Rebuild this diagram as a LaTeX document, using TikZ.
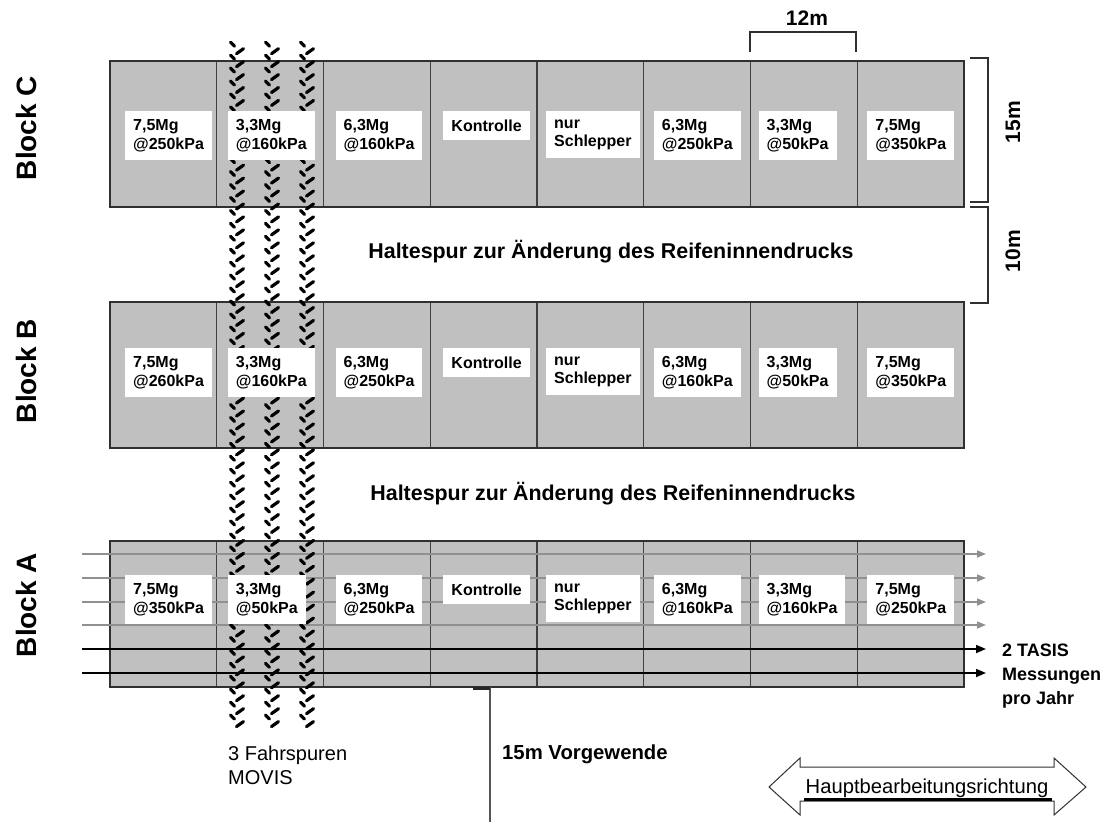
\documentclass[tikz,border=0pt]{standalone}
\usepackage{fontspec}
\setmainfont{Liberation Sans}
\usetikzlibrary{arrows.meta}
\definecolor{blockgray}{HTML}{C0C0C0}
\definecolor{edgegray}{HTML}{303030}
\definecolor{divgray}{HTML}{404040}
\definecolor{arrgray}{HTML}{909090}
\definecolor{linegray}{HTML}{555555}
\begin{document}
\begin{tikzpicture}[x=1pt,y=-1pt,
  divider/.style={draw=divgray, line width=1.4pt},
  outline/.style={draw=edgegray, line width=1.8pt},
  cellbox/.style={fill=white, inner xsep=8pt, inner ysep=8.3pt, align=left, anchor=north west, font=\bfseries\fontsize{16}{18.6}\selectfont},
  trk/.style={line width=3.2pt, line cap=round, black},
  dim/.style={draw=edgegray, line width=1.3pt},
  dimlab/.style={font=\bfseries\fontsize{21}{24}\selectfont, inner sep=0pt},
  blocklab/.style={font=\bfseries\fontsize{28}{32}\selectfont, inner sep=0pt, rotate=90},
  halte/.style={font=\bfseries\fontsize{21.4}{24}\selectfont, inner sep=0pt},
  grayarr/.style={draw=arrgray, line width=1.4pt, -{Triangle[length=9pt,width=7pt]}, arrgray},
  blackarr/.style={draw=black, line width=1.7pt, -{Triangle[length=10pt,width=8pt]}},
  plainlab/.style={font=\fontsize{20}{24}\selectfont, inner sep=0pt, align=left},
  boldlab/.style={font=\bfseries\fontsize{18}{24}\selectfont, inner sep=0pt, align=left}
]
\useasboundingbox (0,0) rectangle (1111,822);

% blocks
\foreach \yy in {61,302,541} {
  \fill[blockgray] (110,\yy) rectangle (964,\yy+146);
  \foreach \i in {1,...,7} \draw[divider] (110+\i*106.75,\yy) -- (110+\i*106.75,\yy+146);
  \draw[outline] (110,\yy) rectangle (964,\yy+146);
}

% gray measuring lines in block A
\foreach \yy in {554,578,602,625}
  \draw[grayarr] (82,\yy) -- (986,\yy);

% tire tracks
\foreach \c in {237,272,307} {
  \foreach \k in {0,...,52} {
    \pgfmathsetmacro{\yy}{41.7+\k*12.94}
    \draw[trk] (\c-6.5,\yy+0.5) -- (\c-2.5,\yy+4.5);
    \draw[trk] (\c-0.5,\yy+12) -- (\c+6.5,\yy+7);
  }
}

% Block C labels
\node[cellbox] (cC1) at (125,111) {7,5Mg\\@250kPa};
\node[cellbox] (cC2) at (227.75,111) {3,3Mg\\@160kPa};
\node[cellbox] (cC3) at (335.5,111) {6,3Mg\\@160kPa};
\node[cellbox] (cC4) at (443.25,111) {Kontrolle};
\node[cellbox] (cC5) at (546,111) {nur\\Schlepper};
\node[cellbox] (cC6) at (653.75,111) {6,3Mg\\@250kPa};
\node[cellbox] (cC7) at (758.5,111) {3,3Mg\\@50kPa};
\node[cellbox] (cC8) at (867.25,111) {7,5Mg\\@350kPa};

% Block B labels
\node[cellbox] (cB1) at (125,348) {7,5Mg\\@260kPa};
\node[cellbox] (cB2) at (227.75,348) {3,3Mg\\@160kPa};
\node[cellbox] (cB3) at (335.5,348) {6,3Mg\\@250kPa};
\node[cellbox] (cB4) at (443.25,348) {Kontrolle};
\node[cellbox] (cB5) at (546,348) {nur\\Schlepper};
\node[cellbox] (cB6) at (653.75,348) {6,3Mg\\@160kPa};
\node[cellbox] (cB7) at (758.5,348) {3,3Mg\\@50kPa};
\node[cellbox] (cB8) at (867.25,348) {7,5Mg\\@350kPa};

% Block A labels
\node[cellbox] (cA1) at (125,575) {7,5Mg\\@350kPa};
\node[cellbox] (cA2) at (227.75,575) {3,3Mg\\@50kPa};
\node[cellbox] (cA3) at (335.5,575) {6,3Mg\\@250kPa};
\node[cellbox] (cA4) at (443.25,575) {Kontrolle};
\node[cellbox] (cA5) at (546,575) {nur\\Schlepper};
\node[cellbox] (cA6) at (653.75,575) {6,3Mg\\@160kPa};
\node[cellbox] (cA7) at (758.5,575) {3,3Mg\\@160kPa};
\node[cellbox] (cA8) at (867.25,575) {7,5Mg\\@250kPa};

% TASIS lines
\foreach \yy in {649,673}
  \draw[blackarr] (82,\yy) -- (986,\yy);
\node[boldlab, anchor=north west] (tasis) at (1002,644) {2 TASIS\\Messungen\\pro Jahr};

% block names
\node[blocklab] (bC) at (26,128) {Block C};
\node[blocklab] (bB) at (26,371) {Block B};
\node[blocklab] (bA) at (26,605) {Block A};

% headland texts
\node[halte] (h1) at (611,252) {Haltespur zur Änderung des Reifeninnendrucks};
\node[halte] (h2) at (613,494) {Haltespur zur Änderung des Reifeninnendrucks};

% dimensions
\draw[dim] (750,52) -- (750,32) -- (856,32) -- (856,52);
\node[dimlab] (d12) at (807,18) {12m};
\draw[dim] (970,58) -- (988,58) -- (988,202) -- (970,202);
\draw[dim] (970,207) -- (988,207) -- (988,303) -- (970,303);
\node[dimlab, rotate=90] (d15) at (1013,122) {15m};
\node[dimlab, rotate=90] (d10) at (1013,251) {10m};

% Vorgewende
\draw[draw=linegray, line width=1.4pt] (490,687) -- (490,822);
\draw[draw=black!85, line width=3pt] (473,688.5) -- (490,688.5);
\node[font=\bfseries\fontsize{20.3}{24}\selectfont, inner sep=0pt, anchor=base west] (vg) at (502,759) {15m Vorgewende};

% MOVIS
\node[plainlab, anchor=north west] (movis) at (228,746) {3 Fahrspuren\\MOVIS};

% main working direction
\draw[draw=edgegray, line width=1pt, fill=white] (769,787) -- (800,758) -- (800,767) -- (1054,767) -- (1054,758) -- (1086,787) -- (1054,815) -- (1054,801) -- (800,801) -- (800,815) -- cycle;
\draw[draw=black, line width=2.2pt] (804,799.5) -- (1052,799.5);
\node[font=\fontsize{20.2}{24}\selectfont, inner sep=0pt, anchor=base] (hbr) at (927,793) {Hauptbearbeitungsrichtung};
\end{tikzpicture}
\end{document}
